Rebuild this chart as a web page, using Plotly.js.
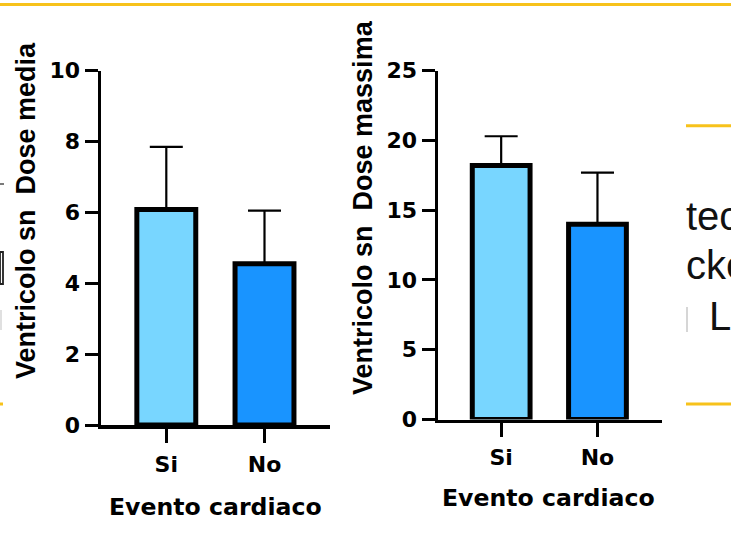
<!DOCTYPE html>
<html>
<head>
<meta charset="utf-8">
<script src="https://cdn.plot.ly/plotly-3.0.1.min.js"></script>
<style>
html,body{margin:0;padding:0;background:#fff;}
#chart{width:731px;height:548px;}
</style>
</head>
<body>
<div id="chart"></div>
<script>
// ---- data ----
const categories = ['Si', 'No'];
const doseMedia = [6.08, 4.55];
const doseMediaErr = [1.77, 1.50];
const doseMassima = [18.2, 14.0];
const doseMassimaErr = [2.1, 3.7];
const barColors = ['#78D6FF', '#1994FF'];
const yTitleLeft = 'Ventricolo sn\u00a0 Dose media';
const yTitleRight = 'Ventricolo sn\u00a0 Dose massima';
const xTitle = 'Evento cardiaco';
const slideFragments = ['tec', 'cke', 'L'];

const W = 731, H = 548;
const px = v => v / W;
const py = v => 1 - v / H;

const boldTick = {family: 'DejaVu Sans', size: 22, color: '#000', weight: 700};

function barTrace(vals, errs, xa, ya) {
  return {
    type: 'bar', x: categories, y: vals, xaxis: xa, yaxis: ya,
    width: 0.6,
    marker: {color: barColors, line: {color: '#000', width: 5}},
    error_y: {type: 'data', symmetric: false, array: errs, arrayminus: [0, 0],
              color: '#000', thickness: 2.2, width: 16.5},
    hoverinfo: 'skip'
  };
}

const data = [
  barTrace(doseMedia, doseMediaErr, 'x', 'y'),
  barTrace(doseMassima, doseMassimaErr, 'x2', 'y2')
];

function xAxis(domain, range, anchor, standoff) {
  return {
    domain: domain, range: range, anchor: anchor, type: 'category',
    showline: true, linecolor: '#000', linewidth: 3.5,
    ticks: 'outside', ticklen: 14, tickwidth: 3, tickcolor: '#000',
    ticklabelstandoff: standoff,
    tickfont: boldTick, showgrid: false, zeroline: false, fixedrange: true
  };
}
function yAxis(domain, range, dtick, anchor) {
  return {
    domain: domain, range: range, dtick: dtick, anchor: anchor,
    showline: true, linecolor: '#000', linewidth: 3.5,
    ticks: 'outside', ticklen: 13, tickwidth: 3, tickcolor: '#000',
    tickfont: boldTick, showgrid: false, zeroline: false, fixedrange: true
  };
}

const yellow = '#F7C21B';
const layout = {
  width: W, height: H,
  margin: {l: 0, r: 0, t: 0, b: 0},
  paper_bgcolor: '#fff', plot_bgcolor: 'rgba(0,0,0,0)',
  showlegend: false,
  bargap: 0.4,
  xaxis: xAxis([px(101), px(330)], [-0.665, 1.667], 'y', 3),
  yaxis: yAxis([py(425), py(70.7)], [0, 10], 2, 'x'),
  xaxis2: xAxis([px(438), px(661.7)], [-0.656, 1.667], 'y2', 2),
  yaxis2: yAxis([py(419.5), py(70.7)], [0, 25], 5, 'x2'),
  shapes: [
    {type: 'line', xref: 'paper', yref: 'paper', x0: 0, x1: 1, y0: py(4.5), y1: py(4.5), line: {color: yellow, width: 3}},
    {type: 'line', xref: 'paper', yref: 'paper', x0: px(686), x1: 1, y0: py(125.7), y1: py(125.7), line: {color: yellow, width: 3}},
    {type: 'line', xref: 'paper', yref: 'paper', x0: px(686), x1: 1, y0: py(404), y1: py(404), line: {color: yellow, width: 3}},
    {type: 'line', xref: 'paper', yref: 'paper', x0: 0, x1: px(3), y0: py(404), y1: py(404), line: {color: yellow, width: 3}},
    {type: 'line', xref: 'paper', yref: 'paper', x0: px(687), x1: px(687), y0: py(307), y1: py(332), line: {color: '#c8c8c8', width: 1.5}},
    {type: 'line', xref: 'paper', yref: 'paper', x0: 0, x1: px(4), y0: py(184), y1: py(184), line: {color: '#222', width: 1.2}},
    {type: 'rect', xref: 'paper', yref: 'paper', x0: 0, x1: px(3), y0: py(284), y1: py(252), line: {color: '#222', width: 1.8}},
    {type: 'line', xref: 'paper', yref: 'paper', x0: px(1), x1: px(1), y0: py(310), y1: py(330), line: {color: '#ccc', width: 1.2}}
  ],
  annotations: [
    {text: yTitleLeft, xref: 'paper', yref: 'paper', x: px(26), y: py(211), textangle: -90,
     xanchor: 'center', yanchor: 'middle', showarrow: false,
     font: {family: 'Liberation Sans', size: 27, color: '#000', weight: 700}},
    {text: yTitleRight, xref: 'paper', yref: 'paper', x: px(363), y: py(208), textangle: -90,
     xanchor: 'center', yanchor: 'middle', showarrow: false,
     font: {family: 'Liberation Sans', size: 27, color: '#000', weight: 700}},
    {text: xTitle, xref: 'paper', yref: 'paper', x: px(215.5), y: py(506.7),
     xanchor: 'center', yanchor: 'middle', showarrow: false,
     font: {family: 'DejaVu Sans', size: 23.6, color: '#000', weight: 700}},
    {text: xTitle, xref: 'paper', yref: 'paper', x: px(548.3), y: py(498.3),
     xanchor: 'center', yanchor: 'middle', showarrow: false,
     font: {family: 'DejaVu Sans', size: 23.6, color: '#000', weight: 700}},
    {text: slideFragments[0], xref: 'paper', yref: 'paper', x: px(684), y: py(216),
     xanchor: 'left', yanchor: 'middle', showarrow: false,
     font: {family: 'Liberation Sans', size: 40, color: '#111'}},
    {text: slideFragments[1], xref: 'paper', yref: 'paper', x: px(684), y: py(265),
     xanchor: 'left', yanchor: 'middle', showarrow: false,
     font: {family: 'Liberation Sans', size: 40, color: '#111'}},
    {text: slideFragments[2], xref: 'paper', yref: 'paper', x: px(707), y: py(316),
     xanchor: 'left', yanchor: 'middle', showarrow: false,
     font: {family: 'Liberation Sans', size: 40, color: '#111'}}
  ]
};

Plotly.newPlot('chart', data, layout, {staticPlot: true, displayModeBar: false});
</script>
</body>
</html>
